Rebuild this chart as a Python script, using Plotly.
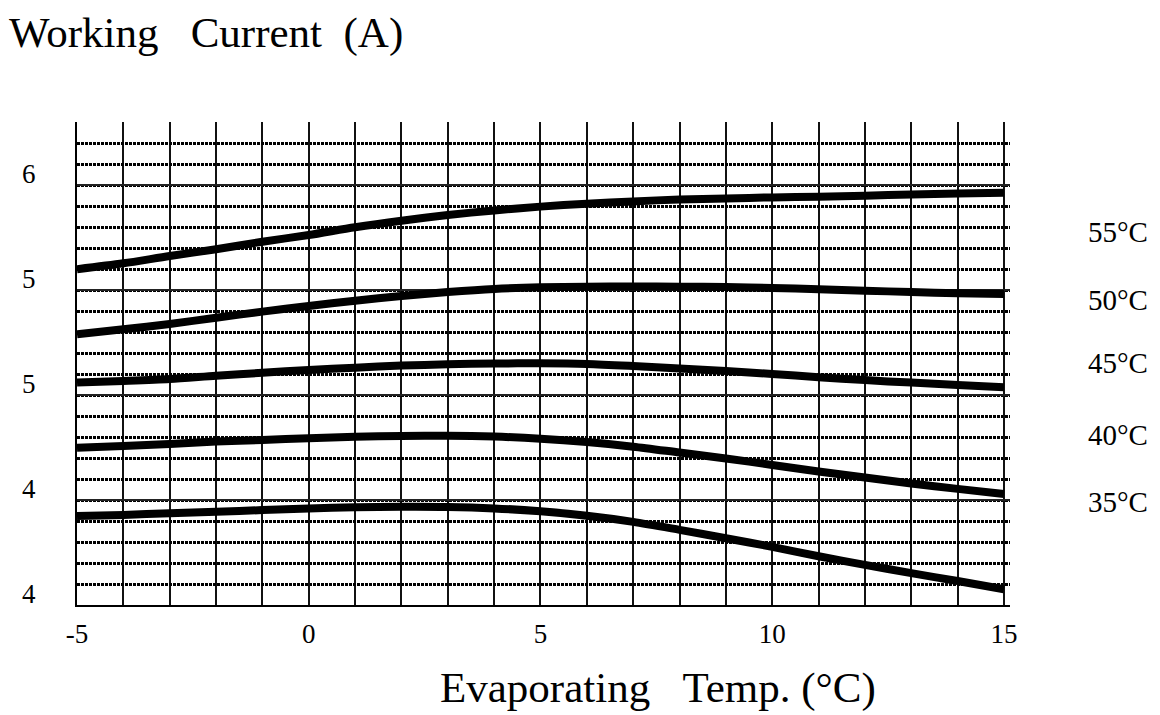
import plotly.graph_objects as go

# ---- data ----
evap_temp = list(range(-5, 16))
series_names = ["55°C", "50°C", "45°C", "40°C", "35°C"]
current_55 = [5.599, 5.627, 5.662, 5.694, 5.730, 5.762, 5.799, 5.830, 5.857, 5.879, 5.897,
              5.911, 5.922, 5.931, 5.936, 5.941, 5.944, 5.949, 5.955, 5.960, 5.963]
current_50 = [5.289, 5.313, 5.338, 5.368, 5.397, 5.424, 5.449, 5.471, 5.490, 5.505, 5.513,
              5.516, 5.517, 5.516, 5.514, 5.510, 5.504, 5.497, 5.490, 5.484, 5.481]
current_45 = [5.060, 5.067, 5.076, 5.092, 5.106, 5.119, 5.130, 5.140, 5.146, 5.150, 5.151,
              5.148, 5.138, 5.126, 5.114, 5.100, 5.085, 5.071, 5.059, 5.048, 5.037]
current_40 = [4.749, 4.757, 4.767, 4.778, 4.786, 4.794, 4.801, 4.805, 4.806, 4.802, 4.792,
              4.776, 4.754, 4.726, 4.698, 4.667, 4.636, 4.607, 4.579, 4.553, 4.529]
current_35 = [4.424, 4.429, 4.437, 4.444, 4.452, 4.460, 4.465, 4.468, 4.467, 4.460, 4.446,
              4.425, 4.396, 4.358, 4.318, 4.277, 4.232, 4.191, 4.152, 4.114, 4.075]
x_tick_vals = [-5, 0, 5, 10, 15]
x_tick_text = ["-5", "0", "5", "10", "15"]
y_tick_vals = [4.0, 4.5, 5.0, 5.5, 6.0]
y_tick_text = ["4", "4", "5", "5", "6"]

all_series = [current_55, current_50, current_45, current_40, current_35]

# label placement (layout)
label_y = [5.778, 5.452, 5.152, 4.810, 4.492]

FONT = "Liberation Serif, Times New Roman, serif"
W, H = 1152, 707  # page adds an 8px body margin

fig = go.Figure()
for name, vals in zip(series_names, all_series):
    fig.add_trace(go.Scatter(
        x=evap_temp, y=vals, mode="lines", name=name,
        line=dict(color="black", width=8, shape="spline", smoothing=0.8),
        showlegend=False, hoverinfo="skip",
    ))

for name, ly in zip(series_names, label_y):
    fig.add_annotation(
        x=1.081, xref="paper", y=ly, yref="y", text=name, showarrow=False,
        xanchor="left", yanchor="middle",
        font=dict(family=FONT, size=29, color="black"),
    )

fig.add_annotation(
    x=0.623, xref="paper", y=-0.172, yref="paper",
    text="Evaporating\u00a0\u00a0\u00a0Temp.\u00a0(°C)", showarrow=False,
    xanchor="center", yanchor="middle",
    font=dict(family=FONT, size=43, color="black"),
)

fig.update_layout(
    width=W, height=H,
    margin=dict(l=69, r=150, t=114, b=110),
    paper_bgcolor="white", plot_bgcolor="white",
    title=dict(
        text="Working\u00a0\u00a0\u00a0Current\u00a0\u00a0(A)",
        x=1 / W, xref="container", xanchor="left",
        y=1 - 24 / H, yref="container", yanchor="middle",
        font=dict(family=FONT, size=43, color="black"),
    ),
    xaxis=dict(
        range=[-5, 15.13], tickmode="array", tickvals=x_tick_vals, ticktext=x_tick_text,
        showgrid=True, gridcolor="#111111", gridwidth=2.2,
        minor=dict(dtick=1, tick0=-5, showgrid=True, gridcolor="#111111", gridwidth=2.2),
        showline=True, linecolor="black", linewidth=2.2,
        ticks="", ticklabelstandoff=3, zeroline=False,
        tickfont=dict(family=FONT, size=27, color="black"),
    ),
    yaxis=dict(
        range=[4.0, 6.3], tickmode="array", tickvals=y_tick_vals, ticktext=y_tick_text,
        showgrid=True, gridcolor="#222222", gridwidth=2,
        minor=dict(dtick=0.1, tick0=4.0, showgrid=True, gridcolor="#000000",
                   gridwidth=2.6, griddash="3px,1px"),
        showline=True, linecolor="black", linewidth=2.2,
        ticks="", ticklabelstandoff=34, ticklabelshift=-11, zeroline=False,
        tickfont=dict(family=FONT, size=27, color="black"),
    ),
)

fig.write_html("out.html")
